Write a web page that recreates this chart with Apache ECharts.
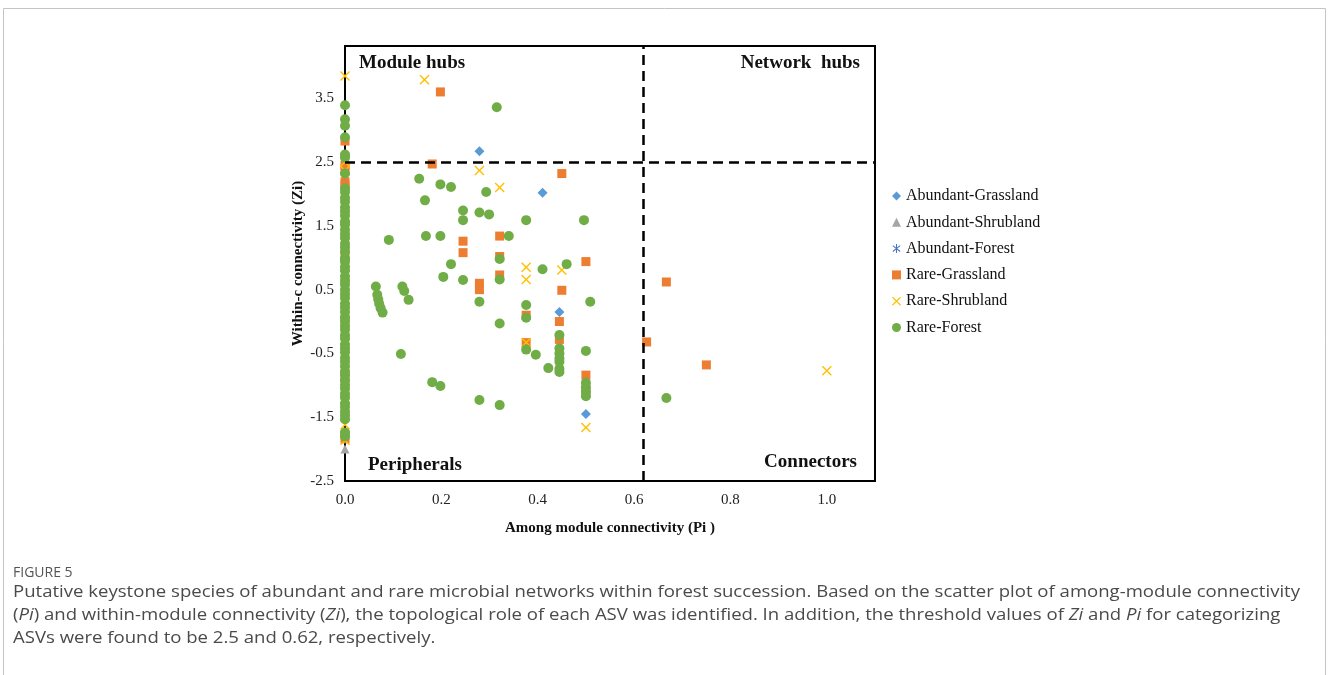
<!DOCTYPE html>
<html>
<head>
<meta charset="utf-8">
<script src="https://cdn.jsdelivr.net/npm/echarts@6/dist/echarts.min.js"></script>
<style>
  html, body { margin: 0; padding: 0; background: #fff; }
  #chart { width: 1328px; height: 675px; }
</style>
</head>
<body>
<div id="chart"></div>
<script>
// Among-module connectivity (Pi) vs within-module connectivity (Zi) per ASV
const seriesNames = ['Abundant-Grassland', 'Abundant-Shrubland', 'Abundant-Forest',
                     'Rare-Grassland', 'Rare-Shrubland', 'Rare-Forest'];

const abundantGrassland = [
  [0.279, 2.67], [0.410, 2.02], [0.445, 0.15], [0.500, -1.45]
];

const abundantShrubland = [
  [0, -2.0]
];

const abundantForest = [];

const rareGrassland = [
  [0, 2.83], [0, 2.45], [0, 2.40], [0, 2.19], [0, 2.14], [0, 1.05], [0, 0.02], [0, -0.88],
  [0, -1.78], [0, -1.84],
  [0.198, 3.60], [0.181, 2.47], [0.450, 2.32], [0.321, 1.34], [0.245, 1.26], [0.245, 1.08],
  [0.321, 1.02], [0.500, 0.94], [0.667, 0.62], [0.279, 0.60], [0.279, 0.50], [0.321, 0.73],
  [0.450, 0.49], [0.376, 0.10], [0.445, 0.00], [0.445, -0.28], [0.376, -0.33], [0.626, -0.32],
  [0.500, -0.84], [0.750, -0.68], [0.500, -1.12]
];

const rareShrubland = [
  [0, 3.85], [0, 2.50], [0, 2.37], [0, 1.62], [0, 0.93], [0, 0.73], [0, -0.29], [0, -1.23],
  [0, -1.62], [0, -1.86],
  [0.165, 3.79], [0.279, 2.37], [0.321, 2.10], [0.376, 0.85], [0.450, 0.81], [0.376, 0.66],
  [0.376, -0.33], [0.500, -1.66], [1.000, -0.77]
];

const rareForest = [
  // ASVs with no links outside their module (Pi = 0)
  [0, 3.39], [0, 3.17], [0, 3.07], [0, 2.89], [0, 2.62], [0, 2.57], [0, 2.32],
  [0, 2.09], [0, 2.03], [0, 1.94], [0, 1.88], [0, 1.79], [0, 1.73], [0, 1.66], [0, 1.57],
  [0, 1.52], [0, 1.44], [0, 1.37], [0, 1.31], [0, 1.22], [0, 1.16], [0, 1.09], [0, 0.99],
  [0, 0.94], [0, 0.86], [0, 0.80], [0, 0.71], [0, 0.64], [0, 0.58], [0, 0.50], [0, 0.43],
  [0, 0.37], [0, 0.28], [0, 0.22], [0, 0.15], [0, 0.07], [0, 0.01], [0, -0.07], [0, -0.13],
  [0, -0.21], [0, -0.27], [0, -0.36], [0, -0.42], [0, -0.48], [0, -0.57], [0, -0.63],
  [0, -0.70], [0, -0.78], [0, -0.84], [0, -0.92], [0, -0.99], [0, -1.05], [0, -1.13],
  [0, -1.19], [0, -1.28], [0, -1.34], [0, -1.41], [0, -1.47], [0, -1.53],
  [0, -1.74], [0, -1.80],
  // ASVs linked across modules
  [0.315, 3.36], [0.154, 2.24], [0.198, 2.15], [0.220, 2.11], [0.293, 2.03], [0.166, 1.90],
  [0.245, 1.74], [0.279, 1.71], [0.299, 1.68], [0.245, 1.59], [0.376, 1.59], [0.496, 1.59],
  [0.091, 1.28], [0.168, 1.34], [0.198, 1.34], [0.340, 1.34], [0.321, 0.98], [0.220, 0.90],
  [0.460, 0.90], [0.410, 0.82], [0.204, 0.70], [0.245, 0.65], [0.321, 0.66], [0.064, 0.55],
  [0.067, 0.42], [0.069, 0.35], [0.071, 0.28], [0.074, 0.21], [0.078, 0.14], [0.119, 0.55],
  [0.123, 0.48], [0.132, 0.34], [0.279, 0.31], [0.376, 0.26], [0.509, 0.31], [0.376, 0.06],
  [0.321, -0.03], [0.445, -0.21], [0.376, -0.44], [0.396, -0.52], [0.445, -0.42],
  [0.445, -0.50], [0.445, -0.58], [0.445, -0.63], [0.422, -0.73], [0.445, -0.74],
  [0.445, -0.79], [0.500, -0.46], [0.500, -0.96], [0.500, -1.03], [0.500, -1.10],
  [0.500, -1.17], [0.116, -0.51], [0.181, -0.95], [0.198, -1.01], [0.279, -1.23],
  [0.321, -1.31], [0.667, -1.20]
];

// Role thresholds
const piThreshold = 0.62;
const ziThreshold = 2.5;

const xTickLabels = ['0.0', '0.2', '0.4', '0.6', '0.8', '1.0'];
const yTickLabels = ['-2.5', '-1.5', '-0.5', '0.5', '1.5', '2.5', '3.5'];

const quadrantNames = ['Module hubs', 'Network  hubs', 'Peripherals', 'Connectors'];

const captionTitle = 'FIGURE 5';
const captionLines = [
  'Putative keystone species of abundant and rare microbial networks within forest succession. Based on the scatter plot of among-module connectivity',
  '({i|Pi}) and within-module connectivity ({i|Zi}), the topological role of each ASV was identified. In addition, the threshold values of {i|Zi} and {i|Pi} for categorizing',
  'ASVs were found to be 2.5 and 0.62, respectively.'
];

const SERIF = '"Liberation Serif", "Times New Roman", serif';
const SANS = '"Open Sans", "Noto Sans", sans-serif';

const X_SYMBOL = 'path://M0,1L1,0L5,4L9,0L10,1L6,5L10,9L9,10L5,6L1,10L0,9L4,5Z';
const STAR_SYMBOL = 'path://M4.4,0H5.6V10H4.4Z M0.6,2.2L1.2,1.2L9.4,7.8L8.8,8.8Z M8.8,1.2L9.4,2.2L1.2,8.8L0.6,7.8Z';

function fmt(list) {
  return function (v) {
    const s = v.toFixed(1);
    return list.indexOf(s) >= 0 ? s : '';
  };
}

const chart = echarts.init(document.getElementById('chart'), null, { renderer: 'canvas' });

const CAPTION_SCALE = 1.125;

const option = {
  backgroundColor: '#ffffff',
  animation: false,
  grid: {
    left: 345, right: 453, top: 46, bottom: 194,
    show: true, borderColor: '#000', borderWidth: 2, backgroundColor: 'transparent'
  },
  xAxis: {
    type: 'value', min: 0, max: 1.1, interval: 0.2,
    name: 'Among module connectivity (Pi )',
    nameLocation: 'middle', nameGap: 40,
    nameTextStyle: { fontFamily: SERIF, fontWeight: 'bold', fontSize: 15, color: '#111' },
    axisLine: { show: true, onZero: false, lineStyle: { color: '#000', width: 2 } },
    axisTick: { show: false },
    splitLine: { show: false },
    axisLabel: {
      formatter: fmt(xTickLabels), showMaxLabel: false, margin: 12,
      fontFamily: SERIF, fontSize: 15, color: '#222'
    }
  },
  yAxis: {
    type: 'value', min: -2.5, max: 4.32, interval: 1,
    name: 'Within-c connectivity (Zi)',
    nameLocation: 'middle', nameGap: 39, nameRotate: 90,
    nameTextStyle: { fontFamily: SERIF, fontWeight: 'bold', fontSize: 15, color: '#111' },
    axisLine: { show: true, onZero: false, lineStyle: { color: '#000', width: 2 } },
    axisTick: { show: false },
    splitLine: { show: false },
    axisLabel: {
      formatter: fmt(yTickLabels), showMaxLabel: false, margin: 11,
      fontFamily: SERIF, fontSize: 15, color: '#222'
    }
  },
  legend: {
    data: seriesNames,
    orient: 'vertical', left: 887, top: 183,
    itemWidth: 9, itemHeight: 9, itemGap: 10.3,
    textStyle: { fontFamily: SERIF, fontSize: 16, color: '#111' }
  },
  graphic: [
    {
      type: 'rect', silent: true, z: -1,
      shape: { x: 3.5, y: 8.5, width: 1322, height: 700 },
      style: { fill: 'none', stroke: '#c4c4c4', lineWidth: 1 }
    },
    {
      type: 'text', left: 359, top: 54,
      style: { text: quadrantNames[0], font: 'bold 19px ' + SERIF, fill: '#111' }
    },
    {
      type: 'text', right: 1328 - 860, top: 54,
      style: { text: quadrantNames[1], font: 'bold 19px ' + SERIF, fill: '#111', textAlign: 'right' }
    },
    {
      type: 'text', left: 368, top: 456,
      style: { text: quadrantNames[2], font: 'bold 19px ' + SERIF, fill: '#111' }
    },
    {
      type: 'text', right: 1328 - 857, top: 453,
      style: { text: quadrantNames[3], font: 'bold 19px ' + SERIF, fill: '#111', textAlign: 'right' }
    },
    {
      type: 'text', left: 13, top: 566,
      style: { text: captionTitle, font: '14px ' + SANS, fill: '#555' }
    }
  ].concat(captionLines.map(function (line, i) {
    return {
      type: 'text', x: 13, y: 584 + i * 23, scaleX: CAPTION_SCALE,
      style: {
        text: line, font: '16.5px ' + SANS, fill: '#4a4a4a',
        rich: { i: { fontStyle: 'italic', fontFamily: SANS, fontSize: 16.5, fill: '#4a4a4a' } }
      }
    };
  })),
  series: [
    {
      name: seriesNames[0], type: 'scatter', data: abundantGrassland,
      symbol: 'diamond', symbolSize: 10,
      itemStyle: { color: '#5B9BD5', opacity: 1 }
    },
    {
      name: seriesNames[1], type: 'scatter', data: abundantShrubland,
      symbol: 'triangle', symbolSize: 9,
      itemStyle: { color: '#A5A5A5', opacity: 1 }
    },
    {
      name: seriesNames[2], type: 'scatter', data: abundantForest,
      symbol: STAR_SYMBOL, symbolSize: 9,
      itemStyle: { color: '#4472C4', opacity: 1 }
    },
    {
      name: seriesNames[3], type: 'scatter', data: rareGrassland,
      symbol: 'rect', symbolSize: 9,
      itemStyle: { color: '#ED7D31', opacity: 1 }
    },
    {
      name: seriesNames[4], type: 'scatter', data: rareShrubland,
      symbol: X_SYMBOL, symbolSize: 10,
      itemStyle: { color: '#FFC000', opacity: 1 }
    },
    {
      name: seriesNames[5], type: 'scatter', data: rareForest,
      symbol: 'circle', symbolSize: 10,
      itemStyle: { color: '#70AD47', opacity: 1 }
    },
    {
      // threshold guides
      name: 'thresholds', type: 'scatter', data: [], z: 5,
      markLine: {
        silent: true, symbol: 'none',
        label: { show: false },
        lineStyle: { color: '#000', type: [10, 6], width: 2.5 },
        data: [{ xAxis: piThreshold }, { yAxis: ziThreshold }]
      }
    }
  ]
};

chart.setOption(option);
</script>
</body>
</html>
